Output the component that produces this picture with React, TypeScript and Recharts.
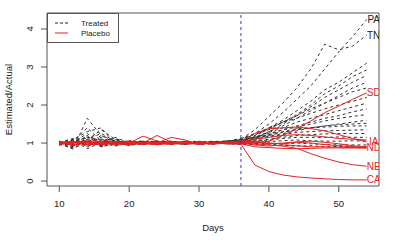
import { LineChart, Line, XAxis, YAxis, ReferenceLine, ReferenceArea, ReferenceDot } from "recharts";

// days sampled every other day; treatment starts at day 36
const days = [10, 12, 14, 16, 18, 20, 22, 24, 26, 28, 30, 32, 34, 36, 38, 40, 42, 44, 46, 48, 50, 52, 54];
const xTicks = [10, 20, 30, 40, 50];
const yTicks = [0, 1, 2, 3, 4];
const treatmentDay = 36;
const labelDay = 55;

// treated states (black dashed)
const treatedPA = [1.0, 0.92, 1.15, 1.08, 0.97, 1.03, 0.99, 1.02, 0.96, 1.01, 1.04, 0.98, 1.05, 1.08, 1.25, 1.5, 1.8, 2.15, 2.5, 2.95, 3.4, 3.8, 4.25];
const treatedTN = [0.97, 1.1, 1.05, 0.93, 1.06, 0.98, 1.02, 1.0, 1.05, 0.97, 1.0, 1.03, 1.02, 1.1, 1.35, 1.7, 2.05, 2.45, 2.95, 3.6, 3.45, 3.55, 3.84];
const treated3 = [1.05, 0.86, 1.65, 1.2, 1.0, 0.94, 1.05, 0.98, 1.01, 1.03, 0.97, 1.0, 1.06, 1.05, 1.2, 1.4, 1.6, 1.85, 2.1, 2.4, 2.6, 2.85, 3.1];
const treated4 = [0.95, 1.08, 1.3, 1.4, 0.98, 1.02, 0.96, 1.05, 0.99, 1.0, 1.02, 1.04, 0.99, 1.1, 1.22, 1.35, 1.55, 1.75, 2.0, 2.3, 2.5, 2.75, 2.92];
const treated5 = [1.02, 1.12, 0.9, 1.05, 1.1, 0.97, 1.0, 0.95, 1.04, 1.02, 0.98, 1.01, 1.03, 1.05, 1.15, 1.3, 1.5, 1.72, 1.95, 2.2, 2.4, 2.6, 2.78];
const treated6 = [0.98, 0.84, 1.1, 1.25, 1.05, 1.0, 1.03, 0.97, 1.0, 0.96, 1.03, 0.99, 1.02, 1.0, 1.12, 1.3, 1.45, 1.65, 1.85, 2.05, 2.25, 2.45, 2.6];
const treated7 = [1.04, 0.95, 1.2, 0.9, 1.0, 1.06, 0.98, 1.02, 0.97, 1.04, 1.0, 1.02, 1.0, 1.04, 1.18, 1.38, 1.55, 1.72, 1.9, 2.05, 2.2, 2.35, 2.45];
const treated8 = [0.96, 1.05, 1.0, 1.15, 0.92, 1.02, 1.05, 0.99, 1.03, 1.0, 0.97, 1.04, 1.05, 1.12, 1.25, 1.4, 1.55, 1.65, 1.78, 1.9, 2.0, 2.1, 2.2];
const treated9 = [1.03, 0.9, 1.08, 1.35, 1.1, 0.95, 1.01, 1.04, 0.98, 1.02, 1.05, 0.97, 1.03, 1.06, 1.15, 1.28, 1.4, 1.55, 1.65, 1.75, 1.85, 1.95, 2.05];
const treated10 = [1.0, 1.08, 0.85, 1.02, 1.15, 1.0, 0.96, 1.03, 1.01, 0.98, 1.02, 1.05, 1.0, 1.02, 1.1, 1.22, 1.35, 1.45, 1.55, 1.65, 1.72, 1.82, 1.9];
const treated11 = [0.97, 1.02, 1.25, 0.95, 1.03, 1.05, 0.99, 0.97, 1.04, 1.0, 1.01, 0.98, 1.04, 1.08, 1.15, 1.25, 1.35, 1.42, 1.5, 1.58, 1.65, 1.7, 1.75];
const treated12 = [1.05, 0.93, 1.05, 1.1, 0.96, 1.02, 1.04, 1.0, 0.97, 1.03, 0.99, 1.02, 1.01, 1.03, 1.1, 1.18, 1.25, 1.32, 1.4, 1.45, 1.5, 1.55, 1.6];
const treated13 = [0.94, 1.06, 1.4, 1.05, 1.0, 0.98, 1.02, 1.05, 1.0, 0.96, 1.04, 1.0, 0.98, 1.05, 1.12, 1.2, 1.28, 1.35, 1.4, 1.45, 1.48, 1.5, 1.52];
const treated14 = [1.02, 0.98, 0.95, 1.2, 1.05, 0.93, 1.0, 1.02, 1.05, 0.99, 1.0, 1.03, 1.05, 1.1, 1.15, 1.22, 1.3, 1.38, 1.4, 1.42, 1.44, 1.45, 1.45];
const treated15 = [1.0, 1.1, 1.12, 0.9, 0.98, 1.04, 1.02, 0.96, 1.0, 1.05, 0.98, 1.0, 1.02, 1.02, 1.08, 1.15, 1.22, 1.28, 1.3, 1.32, 1.33, 1.34, 1.35];
const treated16 = [0.99, 0.87, 1.02, 1.08, 1.12, 1.0, 0.97, 1.01, 1.03, 0.98, 1.02, 0.97, 1.0, 1.0, 1.05, 1.1, 1.15, 1.2, 1.22, 1.24, 1.25, 1.25, 1.25];
const treated17 = [1.03, 1.0, 1.18, 0.96, 0.94, 1.03, 1.05, 0.98, 0.99, 1.02, 1.0, 1.04, 0.97, 1.0, 1.05, 1.08, 1.12, 1.15, 1.15, 1.15, 1.16, 1.15, 1.15];
const treated18 = [0.98, 1.04, 0.92, 1.03, 1.07, 0.99, 1.0, 1.04, 0.96, 1.01, 1.03, 0.99, 1.0, 0.98, 1.0, 1.04, 1.06, 1.08, 1.06, 1.05, 1.05, 1.06, 1.05];
const treated19 = [1.01, 0.95, 1.05, 1.0, 0.97, 1.05, 0.98, 1.0, 1.02, 0.97, 0.99, 1.01, 0.98, 0.96, 0.98, 1.0, 0.97, 1.0, 0.98, 0.96, 0.95, 0.95, 0.95];
const treated20 = [0.97, 1.06, 1.0, 0.94, 1.02, 1.0, 1.03, 0.97, 1.0, 1.03, 0.96, 0.98, 1.0, 0.98, 0.95, 0.97, 0.94, 0.92, 0.93, 0.9, 0.91, 0.9, 0.9];

// placebo states (red solid)
const placeboSD = [1.0, 1.05, 0.95, 1.03, 0.97, 1.06, 1.0, 0.96, 1.03, 1.0, 0.97, 1.02, 1.0, 1.02, 1.0, 1.05, 1.2, 1.38, 1.58, 1.8, 1.97, 2.15, 2.32];
const placeboIA = [0.97, 1.02, 1.06, 0.95, 1.03, 1.0, 1.18, 1.05, 0.98, 1.02, 1.0, 0.99, 1.03, 1.05, 1.25, 1.38, 1.4, 1.42, 1.38, 1.32, 1.22, 1.12, 1.03];
const placeboND = [1.03, 0.95, 1.0, 1.05, 0.94, 0.98, 1.02, 1.0, 1.15, 1.08, 0.97, 1.0, 1.02, 1.0, 0.95, 0.92, 0.95, 0.93, 0.9, 0.9, 0.89, 0.88, 0.87];
const placeboMI = [0.96, 1.04, 0.97, 1.0, 1.04, 0.96, 1.0, 1.2, 1.02, 0.98, 1.03, 0.98, 1.0, 1.02, 1.05, 1.0, 0.98, 1.02, 1.0, 0.96, 0.93, 0.9, 0.89];
const placeboNE = [1.04, 0.97, 1.02, 0.96, 1.0, 1.03, 0.98, 1.01, 0.96, 1.03, 1.0, 1.02, 0.99, 1.0, 0.98, 0.95, 0.92, 0.86, 0.72, 0.6, 0.5, 0.43, 0.39];
const placeboCA = [0.99, 1.03, 1.0, 0.97, 1.02, 1.0, 0.96, 1.02, 1.0, 0.98, 1.02, 1.0, 0.98, 0.97, 0.42, 0.25, 0.16, 0.11, 0.08, 0.06, 0.04, 0.03, 0.03];
const placebo7 = [1.0, 0.94, 1.03, 1.1, 1.0, 0.97, 1.03, 0.99, 1.0, 1.04, 0.98, 1.01, 1.02, 1.03, 1.1, 1.15, 1.2, 1.22, 1.2, 1.16, 1.12, 1.1, 1.08];
const placebo8 = [1.02, 1.05, 0.95, 0.99, 1.03, 1.01, 0.97, 1.0, 1.03, 0.97, 1.01, 1.0, 0.99, 0.98, 0.9, 0.88, 0.86, 0.85, 0.86, 0.87, 0.87, 0.87, 0.87];
const placebo9 = [0.97, 1.01, 1.04, 0.98, 1.0, 1.04, 1.0, 0.96, 1.0, 1.02, 0.99, 0.97, 1.01, 1.0, 1.02, 0.98, 1.0, 1.03, 1.05, 1.02, 0.98, 0.93, 0.9];

const treated = [treatedPA, treatedTN, treated3, treated4, treated5, treated6, treated7, treated8, treated9, treated10,
  treated11, treated12, treated13, treated14, treated15, treated16, treated17, treated18, treated19, treated20];
const placebo = [placeboSD, placeboIA, placeboND, placeboMI, placeboNE, placeboCA, placebo7, placebo8, placebo9];

const treatedLabels = [{ name: "PA", series: treatedPA }, { name: "TN", series: treatedTN }];
const placeboLabels = [
  { name: "SD", series: placeboSD },
  { name: "IA", series: placeboIA },
  { name: "ND", series: placeboND },
  { name: "NE", series: placeboNE },
  { name: "CA", series: placeboCA },
];

const W = 404;
const H = 246;
const PLOT_LEFT = 47;
const PLOT_RIGHT = 379;
const X_DOMAIN: [number, number] = [8.24, 55.76];
const Y_DOMAIN: [number, number] = [-0.13, 4.42];
const FONT = "'Liberation Sans', Arial, Helvetica, sans-serif";
const RED = "#e32222";
const DARK = "#222";
const AXIS = "#555";

const chartData = days.map((day, i) => {
  const row: Record<string, number> = { day };
  treated.forEach((s, k) => (row[`t${k}`] = s[i]));
  placebo.forEach((s, k) => (row[`p${k}`] = s[i]));
  return row;
});

function renderXTick(props: any) {
  const { x, y, payload } = props;
  return (
    <text x={x} y={y} dy="0.71em" textAnchor="middle" fontSize={9.5} fontFamily={FONT} fill={DARK}>
      {payload.value}
    </text>
  );
}

function renderYTick(props: any) {
  const { y, payload } = props;
  const bx = PLOT_LEFT - 14;
  return (
    <g transform={`translate(${bx} ${y}) rotate(-90)`}>
      <text x={0} y={0} textAnchor="middle" fontSize={9.5} fontFamily={FONT} fill={DARK}>
        {payload.value}
      </text>
    </g>
  );
}

function DaysLabel({ viewBox }: any) {
  const { x, y, width } = viewBox;
  return (
    <text x={x + width / 2} y={y + 45} textAnchor="middle" fontSize={9.5} fontFamily={FONT} fill={DARK}>
      Days
    </text>
  );
}

function YLabel({ viewBox }: any) {
  const cy = viewBox.y + viewBox.height / 2;
  return (
    <text x={8} y={cy} transform={`rotate(-90 8 ${cy})`} textAnchor="middle" dominantBaseline="central" fontSize={9.5} fontFamily={FONT} fill={DARK}>
      Estimated/Actual
    </text>
  );
}

function endLabel(text: string, color: string) {
  return (props: any) => {
    const id = `clip-${text}`;
    return (
      <g>
        <defs>
          <clipPath id={id}>
            <rect x={PLOT_LEFT} y={0} width={PLOT_RIGHT - PLOT_LEFT} height={H} />
          </clipPath>
        </defs>
        <text x={props.cx} y={props.cy} textAnchor="middle" dominantBaseline="central" fontSize={10} fontFamily={FONT} fill={color} clipPath={`url(#${id})`}>
          {text}
        </text>
      </g>
    );
  };
}

function LegendBox() {
  return (
    <svg width={72} height={30} style={{ position: "absolute", left: PLOT_LEFT, top: 13 }}>
      <rect x={0.5} y={0.5} width={71} height={29} fill="#fff" stroke={AXIS} />
      <line x1={8} x2={21} y1={10} y2={10} stroke={DARK} strokeDasharray="3 2" />
      <line x1={8} x2={21} y1={20} y2={20} stroke={RED} />
      <text x={34} y={10} dominantBaseline="central" fontSize={8} fontFamily={FONT} fill={DARK}>Treated</text>
      <text x={34} y={20} dominantBaseline="central" fontSize={8} fontFamily={FONT} fill={DARK}>Placebo</text>
    </svg>
  );
}

export default function App() {
  return (
    <div style={{ position: "absolute", left: 0, top: 0, width: W, height: H, background: "#fff" }}>
      <LineChart width={W} height={H} data={chartData} margin={{ top: 13, right: W - PLOT_RIGHT, left: 0, bottom: 20 }}>
        <XAxis
          dataKey="day"
          type="number"
          domain={X_DOMAIN}
          ticks={xTicks}
          allowDataOverflow
          axisLine={false}
          tickSize={6}
          tickMargin={8}
          tickLine={{ stroke: AXIS }}
          tick={renderXTick}
          height={40}
          label={<DaysLabel />}
        />
        <YAxis
          type="number"
          domain={Y_DOMAIN}
          ticks={yTicks}
          allowDataOverflow
          axisLine={false}
          tickSize={6}
          tickLine={{ stroke: AXIS }}
          tick={renderYTick}
          width={PLOT_LEFT}
          label={<YLabel />}
        />
        {treated.map((_, k) => (
          <Line
            key={`t${k}`}
            dataKey={`t${k}`}
            stroke="#333"
            strokeWidth={1}
            strokeDasharray="3 3"
            dot={false}
            isAnimationActive={false}
          />
        ))}
        {placebo.map((_, k) => (
          <Line key={`p${k}`} dataKey={`p${k}`} stroke={RED} strokeWidth={1} dot={false} isAnimationActive={false} />
        ))}
        <ReferenceLine x={treatmentDay} stroke="#3a3acc" strokeDasharray="3 3" />
        {treatedLabels.map((l) => (
          <ReferenceDot key={l.name} x={labelDay} y={l.series[l.series.length - 1]} r={0} shape={endLabel(l.name, DARK)} />
        ))}
        {placeboLabels.map((l) => (
          <ReferenceDot key={l.name} x={labelDay} y={l.series[l.series.length - 1]} r={0} shape={endLabel(l.name, RED)} />
        ))}
        <ReferenceArea x1={X_DOMAIN[0]} x2={X_DOMAIN[1]} y1={Y_DOMAIN[0]} y2={Y_DOMAIN[1]} fill="none" stroke={AXIS} ifOverflow="visible" />
      </LineChart>
      <LegendBox />
    </div>
  );
}
